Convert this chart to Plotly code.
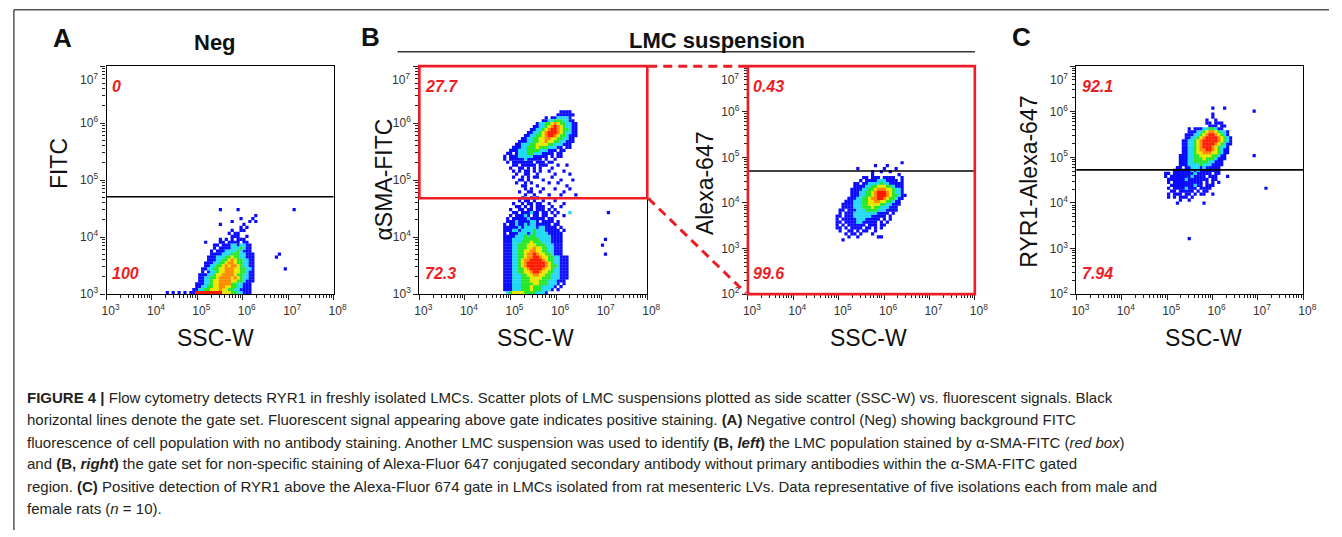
import math
import plotly.graph_objects as go

W, H = 1342, 537

# ---------------------------------------------------------------- data
x_tick_exponents = [3, 4, 5, 6, 7, 8]
y_tick_exponents = {"A": [3, 4, 5, 6, 7], "Bl": [3, 4, 5, 6, 7],
                    "Br": [2, 3, 4, 5, 6, 7], "C": [2, 3, 4, 5, 6, 7]}
panel_keys = ["A", "Bl", "Br", "C"]
y_titles = ["FITC", "αSMA-FITC", "Alexa-647", "RYR1-Alexa-647"]
x_title = "SSC-W"
gate_values = [5.1e4, 4.8e4, 5.0e4, 5.3e4]
upper_percent = ["0", "27.7", "0.43", "92.1"]
lower_percent = ["100", "72.3", "99.6", "7.94"]

# pseudo-colour density rasters.
# each row (top to bottom) = "col:levels" segments; level 1..6 = blue, cyan,
# green, yellow, orange, red ; "." = no event
A_rows = [
    "", "",
    "19:1 25:1 44:1",
    "",
    "31:1",
    "26:1 30:1",
    "23:1 29:1 31:1",
    "19:1 27:1",
    "26:1 28:1",
    "23:1 26:11",
    "22:1.11",
    "23:111 28:1",
    "19:1.1.1.111",
    "14:1 19:11.1111.11",
    "17:11.1112212211",
    "17:1.11112223211",
    "16:1.111222232111",
    "16:111122233322111 39:1",
    "15:1112223343322111 38:1",
    "15:1112233454332211",
    "14:11122334554332211",
    "14:11223345455432211",
    "13:112233445554433221 41:1",
    "13:1.1223445554433211",
    "12:1112234455554332211",
    "12:1122334555545432211",
    "12:1122344555544332111",
    "11:1112234455553322111",
    "11:1122334455443322111",
    "10:11223344454433221111",
    "1:1 3:1 5:1 7:1 9:1 10:16666666664443322111",
]
A_bins = dict(x0=4.272, dx=0.065, y0=4.586, dy=0.052)   # log10 centre of col 0 / row 0

Bl_rows = [
    "", "", "", "",
    "24:1111",
    "23:111111",
    "19:1.1122221",
    "18:11223332211",
    "16:12233454332211",
    "15:112234565432211",
    "14:1122345665433211",
    "13:11223456665432211",
    "12:112233456654332111",
    "11:112233445544332211",
    "10:1112233445443322111",
    "9:1122233444433222111",
    "8:11122333433322211.11",
    "7:1112223333222111.11",
    "6:11.1222332221111.11",
    "5:1.1112222211111.1.11",
    "5:1.11111211111.1..1",
    "6:1.1111111.111.11",
    "8:11.11111.111 23:1 26:1",
    "7:1..11.1.1.1 21:1",
    "8:1.1.11.1 17:1 20:1 25:1",
    "9:1 12:11 16:1 22:1 27:1",
    "8:1 11:1.1 15:11 21:1",
    "10:11 13:1 18:1 24:1 28:1",
    "9:1 12:1 14:1 20:1 23:1",
    "11:11 16:1 26:1",
    "12:1 14:1 18:1 22:1 27:1",
    "10:1 13:11 17:1 25:1",
    "12:1 15:1 20:1 24:1 29:1",
    "11:1 14:1 16:1",
    "10:1 12:11 15:1 18:1 22:1",
    "8:1 11:1.11 16:11 20:1 25:1",
    "9:11.1.1.11 18:1 21:1 24:1",
    "7:1 10:11.11.111 20:1.1",
    "8:11.111211.11 21:1 23:1 27:2 40:1",
    "7:1.11121.11.11 22:1 25:1",
    "6:1.11111211111.11",
    "6:11121111221.1111.1",
    "5:1.11211212211111.11",
    "5:111112122221221111.1",
    "5:1112212222322211111.1",
    "5:1.111222123222211111",
    "5:11112223233222221111",
    "5:11122223333322221111 39:1",
    "5:11122233343332221111",
    "5:11122333444333222111 38:1",
    "5:11122333445443322111",
    "5:11122334455443322111",
    "5:11122334556544332111 39:1",
    "5:1112233455665443322111",
    "5:1112234556666543322111",
    "5:1112234566666654322111",
    "5:1112234566666654332111",
    "5:1112233456666544322111",
    "5:1112233445665443322111",
    "5:1112223344554433222111",
    "5:1112223334444333222111",
    "5:111222333444333222111",
    "5:1112223333443332221.1",
    "5:111222333433322221.1",
    "5:11122233343332221.1",
    "6:23444433332221",
]
Bl_bins = dict(x0=4.548, dx=0.065, y0=6.406, dy=0.052)

Br_rows = [
    "", "",
    "26:1",
    "17:1 21:1",
    "11:1 20:1 24:1",
    "16:1 19:1 22:1",
    "16:1 25:1",
    "13:11.111.1111 23:1 26:1",
    "12:1.11112221111.1",
    "10:11.11222232211111",
    "10:11112233444332111",
    "9:111122334555443221",
    "9:111223345666543221",
    "9:1112233456665433211",
    "8:1112233455665433211",
    "7:1112223344554433211",
    "6:11112223344443322111",
    "6:1111222333433222111",
    "5:11.11122233332221111",
    "5:1.111222222221111.1",
    "4:11.11122222211111.1",
    "4:1.1111122211111.1.1",
    "4:11.11112211111.1.1",
    "4:1.1.111111.111.11",
    "4:11.1.1111.11.1.1",
    "5:1..11.1.11 17:1",
    "7:1 9:11 12:1 16:1",
    "8:1 11:1 18:11",
    "6:1",
]
Br_bins = dict(x0=4.707, dx=0.065, y0=5.011, dy=0.065)

C_rows = [
    "", "", "",
    "21:1 25:1",
    "35:1",
    "21:1",
    "21:1",
    "19:1 22:1",
    "19:11 22:111",
    "20:111.11",
    "13:1.1112233211",
    "13:11122345543221",
    "12:111223456654321",
    "12:1122345666654321",
    "11:11223456666654321",
    "11:11223456666543211",
    "11:1122345666543221",
    "11:1122345566543211",
    "11:1122344555443211",
    "10:1112233444433211 35:1",
    "10:1112233343332111",
    "10:111223333322111",
    "10:111222232221111",
    "9:11.112221211111",
    "8:1111112121111111",
    "5:11.1111111211111.11",
    "5:1.111111121111.111 26:1",
    "6:11111121111111.11",
    "6:1.1111111111.1.1 23:1",
    "7:11111111211.111",
    "6:1.11112111.1111 39:1",
    "7:11.11111.1.11",
    "6:1.111.11.1.11 21:1",
    "6:1 8:1.11 12:1 14:1",
    "10:1 13:1",
    "9:1 18:1",
    "", "", "", "", "", "", "", "", "", "", "",
    "13:1",
]
C_bins = dict(x0=4.641, dx=0.065, y0=6.272, dy=0.065)

rasters = {"A": (A_rows, A_bins), "Bl": (Bl_rows, Bl_bins),
           "Br": (Br_rows, Br_bins), "C": (C_rows, C_bins)}

caption_lines = [
    "<b>FIGURE 4 |</b> Flow cytometry detects RYR1 in freshly isolated LMCs. Scatter plots of LMC suspensions plotted as side scatter (SSC-W) vs. fluorescent signals. Black",
    "horizontal lines denote the gate set. Fluorescent signal appearing above gate indicates positive staining. <b>(A)</b> Negative control (Neg) showing background FITC",
    "fluorescence of cell population with no antibody staining. Another LMC suspension was used to identify <b>(B, <i>left</i>)</b> the LMC population stained by α-SMA-FITC (<i>red box</i>)",
    "and <b>(B, <i>right</i>)</b> the gate set for non-specific staining of Alexa-Fluor 647 conjugated secondary antibody without primary antibodies within the α-SMA-FITC gated",
    "region. <b>(C)</b> Positive detection of RYR1 above the Alexa-Fluor 674 gate in LMCs isolated from rat mesenteric LVs. Data representative of five isolations each from male and",
    "female rats (<i>n</i> = 10).",
]

# ---------------------------------------------------------------- styling / layout
level_colors = {1: "#0a0aff", 2: "#22d8f8", 3: "#28e628", 4: "#e8e800", 5: "#ff8a00", 6: "#ff1a00"}
FONT = "Liberation Sans, Arial, sans-serif"
RED = "#ee1c24"

# plot rectangles in pixels (left, right, top, bottom)
rects = {"A": (103, 333, 67, 298), "Bl": (420, 651, 67, 298),
         "Br": (753, 983, 67, 298), "C": (1086, 1316, 67, 298)}
xtitle_cx = {"A": 213, "Bl": 538, "Br": 875, "C": 1215}
ytitle_c = {"A": (55, 166), "Bl": (384, 182), "Br": (709, 185), "C": (1038, 184)}


def px(x):
    return x / W


def py(y):
    return 1 - y / H


def raster_points(rows, b):
    pts = []
    for r, row in enumerate(rows):
        for seg in row.split():
            c0, levels = seg.split(":")
            c0 = int(c0)
            for k, ch in enumerate(levels):
                if ch != ".":
                    pts.append((int(ch), 10 ** (b["x0"] + (c0 + k) * b["dx"]),
                                10 ** (b["y0"] - r * b["dy"])))
    pts.sort(key=lambda p: p[0])
    return pts


fig = go.Figure()
annotations = []
shapes = []
layout_axes = {}

minor_x = [m * 10 ** e for e in range(3, 8) for m in range(2, 10)]

for i, key in enumerate(panel_keys):
    n = i + 1
    xa = "x" if n == 1 else f"x{n}"
    ya = "y" if n == 1 else f"y{n}"
    L, R, T, B = rects[key]
    yexp = y_tick_exponents[key]
    ymin, ymax = yexp[0], yexp[-1]

    rows, bins = rasters[key]
    pts = raster_points(rows, bins)
    fig.add_trace(go.Scatter(
        x=[p[1] for p in pts], y=[p[2] for p in pts], mode="markers",
        marker=dict(symbol="square", size=3.2, color=[level_colors[p[0]] for p in pts],
                    line=dict(width=0)),
        xaxis=xa, yaxis=ya, showlegend=False, hoverinfo="skip"))

    minor_y = [m * 10 ** e for e in range(ymin, ymax) for m in range(2, 10)]
    common = dict(type="log", showgrid=False, zeroline=False, showline=True, mirror=True,
                  linecolor="black", linewidth=1.3, ticks="outside", ticklen=5,
                  tickwidth=1, tickcolor="#222", tickmode="array",
                  tickfont=dict(family=FONT, size=12, color="#333"),
                  fixedrange=True)
    layout_axes[("xaxis" if n == 1 else f"xaxis{n}")] = dict(
        common, domain=[px(L), px(R)], range=[3, 8], anchor=ya,
        tickvals=[10 ** e for e in x_tick_exponents],
        ticktext=[f"10<sup>{e}</sup>" for e in x_tick_exponents],
        ticklabelshift=4,
        minor=dict(tickvals=minor_x, ticks="outside", ticklen=3, tickcolor="#222", showgrid=False))
    layout_axes[("yaxis" if n == 1 else f"yaxis{n}")] = dict(
        common, domain=[py(B), py(T)], range=[ymin, ymax], anchor=xa,
        tickvals=[10 ** e for e in yexp],
        ticktext=[f"10<sup>{e}</sup>" if e != ymax else "" for e in yexp],
        minor=dict(tickvals=minor_y, ticks="outside", ticklen=3, tickcolor="#222", showgrid=False))

    # top tick label sits a little below its tick in the original
    annotations.append(dict(xref="paper", yref="paper", x=px(L - 7), y=py(T + 13),
                            text=f"10<sup>{ymax}</sup>", showarrow=False, xanchor="right",
                            yanchor="middle", font=dict(family=FONT, size=12, color="#333")))

    # gate
    gfrac = (math.log10(gate_values[i]) - ymin) / (ymax - ymin)
    if key == "Bl":
        shapes.append(dict(type="rect", xref=f"{xa} domain", yref=f"{ya} domain",
                           x0=0, x1=1, y0=gfrac, y1=1, line=dict(color=RED, width=2.6),
                           layer="above"))
    else:
        shapes.append(dict(type="line", xref=f"{xa} domain", yref=f"{ya} domain",
                           x0=0, x1=1, y0=gfrac, y1=gfrac, line=dict(color="black", width=1.6),
                           layer="above"))
    if key == "Br":
        shapes.append(dict(type="rect", xref=f"{xa} domain", yref=f"{ya} domain",
                           x0=0, x1=1, y0=0, y1=1, line=dict(color=RED, width=2.6),
                           layer="above"))

    # percentages
    pf = dict(family=FONT, size=16, color=RED)
    annotations.append(dict(xref=f"{xa} domain", yref=f"{ya} domain", x=0.015,
                            y=1 - 21 / 231, text=f"<b><i>{upper_percent[i]}</i></b>",
                            showarrow=False, xanchor="left", yanchor="middle", font=pf))
    annotations.append(dict(xref=f"{xa} domain", yref=f"{ya} domain", x=0.015,
                            y=1 - 210 / 231, text=f"<b><i>{lower_percent[i]}</i></b>",
                            showarrow=False, xanchor="left", yanchor="middle", font=pf))

    # axis titles
    annotations.append(dict(xref="paper", yref="paper", x=px(xtitle_cx[key]), y=py(342),
                            text=x_title, showarrow=False, xanchor="center", yanchor="middle",
                            font=dict(family=FONT, size=23, color="#111")))
    cx, cy = ytitle_c[key]
    annotations.append(dict(xref="paper", yref="paper", x=px(cx), y=py(cy),
                            text=y_titles[i], showarrow=False, textangle=-90,
                            xanchor="center", yanchor="middle",
                            font=dict(family=FONT, size=23, color="#111")))

# dashed connectors between B-left gate box and B-right plot
Lb, Rb, Tb, Bb = rects["Bl"]
Lr, Rr, Tr, Br_ = rects["Br"]
g_frac_bl = (math.log10(gate_values[1]) - 3) / 4
g_paper = py(Bb) + g_frac_bl * (py(Tb) - py(Bb))
dash = dict(color=RED, width=3, dash="9px,6px")
shapes.append(dict(type="line", xref="paper", yref="paper", x0=px(Rb + 1), y0=py(Tb),
                   x1=px(Lr - 1), y1=py(Tr), line=dash))
shapes.append(dict(type="line", xref="paper", yref="paper", x0=px(Rb + 1), y0=g_paper,
                   x1=px(Lr - 2), y1=py(Br_ - 1), line=dash))

# frame of the figure image and title underline
shapes.append(dict(type="line", xref="paper", yref="paper", x0=px(9), x1=1, y0=py(10), y1=py(10),
                   line=dict(color="#555", width=1.5)))
shapes.append(dict(type="line", xref="paper", yref="paper", x0=px(9), x1=px(9), y0=py(10), y1=0,
                   line=dict(color="#555", width=1.5)))
shapes.append(dict(type="line", xref="paper", yref="paper", x0=px(398), x1=px(983),
                   y0=py(52.5), y1=py(52.5), line=dict(color="#333", width=1.5)))

# panel letters and headings
for txt, x, y, s in [("A", 58, 38, 26), ("B", 370, 37, 26), ("C", 1030, 37, 26),
                     ("Neg", 213, 43, 22), ("LMC suspension", 722, 41, 22)]:
    annotations.append(dict(xref="paper", yref="paper", x=px(x), y=py(y), text=f"<b>{txt}</b>",
                            showarrow=False, xanchor="center", yanchor="middle",
                            font=dict(family=FONT, size=s, color="#111")))

# caption
cap_y = [403, 425, 448, 470, 493, 515]
for line, y in zip(caption_lines, cap_y):
    annotations.append(dict(xref="paper", yref="paper", x=px(20), y=py(y), text=line,
                            showarrow=False, xanchor="left", yanchor="middle", align="left",
                            font=dict(family="Liberation Sans Narrow, Liberation Sans, Arial",
                                      size=15, color="#231f20")))

fig.update_layout(width=W, height=H, margin=dict(l=0, r=0, t=0, b=0),
                  paper_bgcolor="white", plot_bgcolor="white",
                  showlegend=False, annotations=annotations, shapes=shapes, **layout_axes)

fig.write_html("out.html", config={"displayModeBar": False},
               post_script="document.body.style.margin='0';")
